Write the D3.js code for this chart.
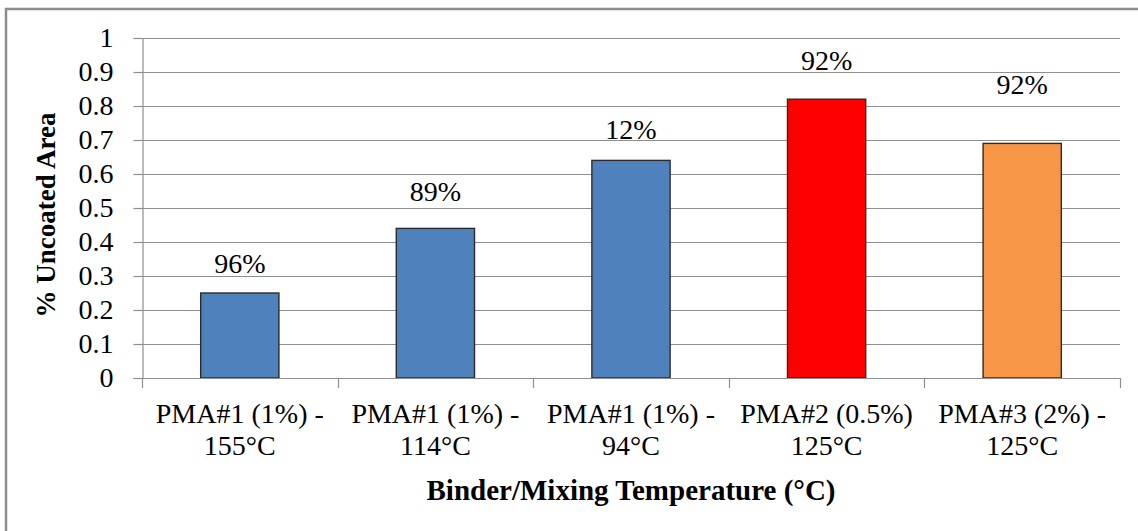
<!DOCTYPE html>
<html>
<head>
<meta charset="utf-8">
<script src="https://cdn.jsdelivr.net/npm/d3@7/dist/d3.min.js"></script>
<style>
  html, body { margin: 0; padding: 0; background: #fff; }
  svg { display: block; }
  svg text { font-family: "Liberation Serif", "Times New Roman", Tinos, "DejaVu Serif", serif; fill: #000; }
</style>
</head>
<body>
<script>
// Binders with their mixing temperature (two text lines each)
const categories = [
  ["PMA#1 (1%) -", "155°C"],
  ["PMA#1 (1%) -", "114°C"],
  ["PMA#1 (1%) -", "94°C"],
  ["PMA#2 (0.5%)", "125°C"],
  ["PMA#3 (2%) -", "125°C"]
];
// Fraction of uncoated area for each binder
const uncoated = [0.25, 0.44, 0.64, 0.82, 0.69];
// Notes printed above each bar, and the level (in axis units) where each sits
const notes = ["96%", "89%", "12%", "92%", "92%"];
const noteLevels = [0.338, 0.55, 0.732, 0.935, 0.865];
const barColors = ["#4F81BD", "#4F81BD", "#4F81BD", "#FF0000", "#F79646"];
const yTicks = [0, 0.1, 0.2, 0.3, 0.4, 0.5, 0.6, 0.7, 0.8, 0.9, 1];
const yTitle = "% Uncoated Area";
const xTitle = "Binder/Mixing Temperature (°C)";

const W = 1138, H = 531;
const plot = { left: 142, right: 1120, top: 38, bottom: 378 };
const FONT = '"Liberation Serif", "Times New Roman", Tinos, "DejaVu Serif", serif';

const svg = d3.select("body").append("svg").attr("width", W).attr("height", H)
  .attr("font-family", FONT);

// chart frame
svg.append("rect")
  .attr("x", 6).attr("y", 9).attr("width", W + 10).attr("height", H + 10)
  .attr("fill", "#fff").attr("stroke", "#8c8c8c").attr("stroke-width", 2.5);

const x = d3.scaleBand()
  .domain(d3.range(categories.length))
  .range([plot.left, plot.right])
  .paddingInner(0.6).paddingOuter(0.3);

const y = d3.scaleLinear().domain([0, 1]).range([plot.bottom, plot.top]);

// horizontal gridlines
svg.append("g").selectAll("line").data(yTicks.slice(1)).join("line")
  .attr("x1", plot.left).attr("x2", plot.right)
  .attr("y1", d => Math.round(y(d)) + 0.5).attr("y2", d => Math.round(y(d)) + 0.5)
  .attr("stroke", "#8f8f8f").attr("stroke-width", 1.2);

// y axis
const yAxis = svg.append("g")
  .attr("transform", `translate(${plot.left + 0.5},0)`)
  .call(d3.axisLeft(y).tickValues(yTicks).tickSize(9).tickPadding(20)
    .tickFormat(d => d3.format("~g")(d)))
  .attr("font-family", FONT).attr("font-size", 28);
yAxis.select(".domain").attr("stroke", "#8f8f8f").attr("stroke-width", 1.2);
yAxis.selectAll(".tick line").attr("stroke", "#8f8f8f").attr("stroke-width", 1.2);
yAxis.selectAll(".tick text").attr("fill", "#000");

// bars
svg.append("g").selectAll("rect").data(uncoated).join("rect")
  .attr("x", (d, i) => x(i))
  .attr("y", d => y(d))
  .attr("width", x.bandwidth())
  .attr("height", d => y(0) - y(d))
  .attr("fill", (d, i) => barColors[i])
  .attr("stroke", "#2b2b2b").attr("stroke-width", 1.4);

// x axis baseline with category boundary ticks
const step = x.step();
const bounds = d3.range(categories.length + 1).map(i => plot.left + i * step);
const xg = svg.append("g");
xg.append("line")
  .attr("x1", plot.left).attr("x2", plot.right)
  .attr("y1", plot.bottom + 0.5).attr("y2", plot.bottom + 0.5)
  .attr("stroke", "#8f8f8f").attr("stroke-width", 1.2);
xg.selectAll("line.tk").data(bounds).join("line").attr("class", "tk")
  .attr("x1", d => Math.round(d) + 0.5).attr("x2", d => Math.round(d) + 0.5)
  .attr("y1", plot.bottom).attr("y2", plot.bottom + 10)
  .attr("stroke", "#8f8f8f").attr("stroke-width", 1.2);

// category labels
const cat = svg.append("g").selectAll("text").data(categories).join("text")
  .attr("text-anchor", "middle")
  .attr("font-size", 28);
cat.each(function (d, i) {
  const t = d3.select(this);
  const cx = x(i) + x.bandwidth() / 2;
  d.forEach((line, k) => {
    t.append("tspan").attr("x", cx).attr("y", 423 + k * 32).text(line);
  });
});

// notes above bars
svg.append("g").selectAll("text").data(notes).join("text")
  .attr("x", (d, i) => x(i) + x.bandwidth() / 2)
  .attr("y", (d, i) => y(noteLevels[i]))
  .attr("dy", "0.35em")
  .attr("text-anchor", "middle")
  .attr("font-size", 28)
  .text(d => d);

// axis titles
svg.append("text")
  .attr("x", (plot.left + plot.right) / 2).attr("y", 500)
  .attr("text-anchor", "middle")
  .attr("font-size", 29).attr("font-weight", "bold")
  .text(xTitle);

svg.append("text")
  .attr("transform", `translate(55,${(plot.top + plot.bottom) / 2 + 7}) rotate(-90)`)
  .attr("text-anchor", "middle")
  .attr("font-size", 27).attr("font-weight", "bold")
  .text(yTitle);
</script>
</body>
</html>
